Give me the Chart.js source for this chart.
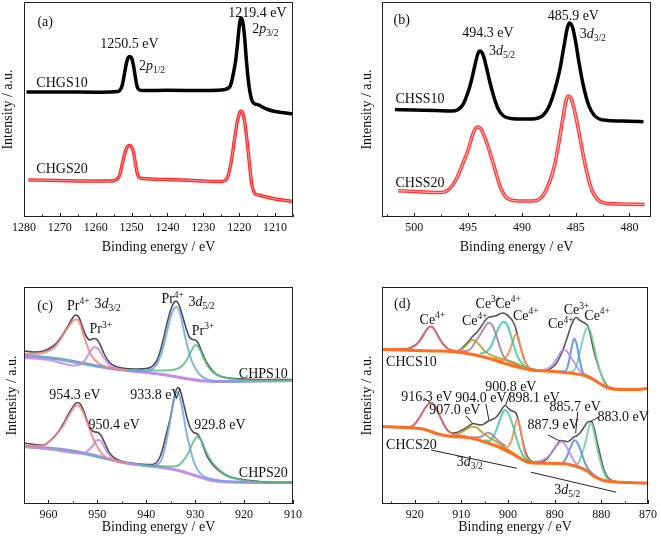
<!DOCTYPE html>
<html><head><meta charset="utf-8">
<script src="https://cdn.jsdelivr.net/npm/chart.js@4.4.1/dist/chart.umd.min.js"></script>
<style>
html,body{margin:0;padding:0;background:#fff;}
body{width:661px;height:543px;position:relative;overflow:hidden;}
.p{position:absolute;}
</style></head><body>
<div class="p" style="left:0;top:0;width:330px;height:270px"><canvas id="ca"></canvas></div>
<div class="p" style="left:330px;top:0;width:331px;height:270px"><canvas id="cb"></canvas></div>
<div class="p" style="left:0;top:270px;width:330px;height:273px"><canvas id="cc"></canvas></div>
<div class="p" style="left:330px;top:270px;width:331px;height:273px"><canvas id="cd"></canvas></div>
<script>
// ---------------- DATA (binding energy eV, intensity a.u.) ----------------
// tick labels
const ticksA = [1280,1270,1260,1250,1240,1230,1220,1210];
const ticksB = [500,495,490,485,480];
const ticksC = [960,950,940,930,920,910];
const ticksD = [920,910,900,890,880,870];

// (a) Ga 2p
const CHGS10 = [[1279.3,125],[1270,125],[1260,124.8],[1256,125],[1254,125.5],[1253.2,127],[1252.6,132],[1252,143],[1251.5,153],[1251,159],[1250.5,160.5],[1250,159],[1249.5,152],[1249,141],[1248.5,131],[1248,127.5],[1247,126.5],[1240,126.7],[1230,126.5],[1225,127],[1224,127.5],[1223,129],[1222.5,131],[1222,137],[1221.5,146],[1221,156],[1220.5,172],[1220,190],[1219.5,199],[1219,195],[1218.5,180],[1218,157],[1217.5,138],[1217,125],[1216.5,117],[1216,114],[1215,112.5],[1214,111],[1213,109],[1212,107.5],[1210,105.5],[1208,104.5],[1205,103]];
const CHGS20 = [[1278.8,37],[1270,36.5],[1260,36],[1256,36],[1255,36.5],[1254,38],[1253.3,42],[1252.6,53],[1252,62],[1251.5,68],[1251,71],[1250.5,71.5],[1250,70],[1249.5,65],[1249,55],[1248.5,45],[1248,40],[1247,38.5],[1240,37.5],[1230,36],[1225,35.5],[1224,36.5],[1223.2,40],[1222.5,50],[1222,60],[1221.5,73],[1221,85],[1220.5,96],[1220,103],[1219.5,106],[1219,104],[1218.5,96],[1218,82],[1217.5,66],[1217,48],[1216.5,33],[1216,26],[1215.5,23],[1214.5,22],[1213,20.5],[1210,18],[1207,16.5],[1205,15.5]];

// (b) Sn 3d
const CHSS10 = [[501.8,107.5],[500,107],[498,106.5],[496.5,106],[496,107],[495.5,112],[495,125],[494.7,136],[494.4,150],[494.1,163],[493.9,166],[493.6,162],[493.3,150],[493,136],[492.6,120],[492.2,108],[491.7,101],[491,98.5],[490,98],[489,98],[488.5,99],[488,102],[487.5,110],[487,125],[486.5,146],[486.1,170],[485.8,188],[485.6,194],[485.3,190],[485,175],[484.7,155],[484.3,132],[483.8,112],[483.3,102],[482.8,98],[482,96.5],[480,95.8],[478.7,95.3]];
const CHSS20 = [[501.5,26.3],[500,25.5],[498,24.5],[497.5,24.5],[497,26],[496.5,31],[496,40],[495.5,53],[495,67],[494.7,78],[494.4,87],[494.1,90],[493.8,88],[493.5,81],[493.1,69],[492.7,55],[492.3,40],[492,30],[491.5,20],[491,17],[490,16],[489,16],[488.5,17],[488,22],[487.5,33],[487,50],[486.6,72],[486.2,98],[485.9,116],[485.7,121],[485.4,118],[485.1,106],[484.7,85],[484.3,62],[483.9,42],[483.5,27],[483,18],[482.5,14.5],[481,13],[478.6,12.5]];

// (c) Pr 3d  -- CHPS10
const CHPS10_env = [[965,153],[963,152],[961,153],[959,158],[958,163],[957,170],[956,178],[955.2,185],[954.5,189],[953.8,187],[953.1,178],[952.3,168],[951.5,164],[950.8,165.5],[950.2,165],[949.5,160],[948.6,150],[947.6,142],[946.5,138],[945,136],[942,135],[940,135.5],[939,137],[938,142],[937.2,152],[936.5,165],[935.8,180],[935,194],[934.4,201],[933.9,203],[933.3,199],[932.7,190],[932,178],[931.2,167],[930.5,164.5],[930,164],[929.4,161],[928.7,153],[928,145],[927.2,138],[926.2,132],[925,128],[923,126],[920,125],[915,124.5],[910,124.5]];
const CHPS10_Pr4a = [[965,150],[962,150.5],[960,153],[958.5,158],[957.5,165],[956.5,173],[955.5,180],[954.8,184],[954.2,184.5],[953.6,181],[952.9,170],[952.2,160],[951.5,151],[950.5,144],[949.5,140],[948,137],[946,135],[944,133.5]];
const CHPS10_Pr3a = [[965,146],[960,144],[957,140.5],[955,138.5],[953.5,139.5],[952.5,144],[951.5,152],[950.6,157],[949.8,155],[948.8,147],[947.8,140.5],[946.5,136],[944,133.5]];
const CHPS10_Pr4b = [[965,149],[958,144.5],[952,139],[948,136],[944,133.5],[940,133],[938.5,136],[937.5,143],[936.5,157],[935.5,178],[934.6,193],[933.8,197],[933,189],[932.3,173],[931.5,156],[930.7,143],[930,136],[929,129],[927.5,124.5],[925,122.5],[920,122.5]];
const CHPS10_Pr3b = [[965,150],[958,145.5],[952,140],[948,136.5],[944,134],[938,133.5],[935,134],[933.5,135.5],[932.5,139],[931.5,146],[930.7,154],[929.9,159],[929,154],[928.2,145],[927.3,137],[926.3,131.5],[925,128],[922.5,125],[918,123.5],[912,123.5],[910,123.5]];
const CHPS10_bg = [[965,148],[958,145],[952,140],[948,136],[944,133.5],[940,131.5],[936,129],[932,125.5],[928,123],[924,122.5],[915,123],[910,123.5]];
// CHPS20
const CHPS20_env = [[965,61],[963,59.5],[961,59],[959.5,64],[958,72],[957,80],[956,89],[955,97],[954.2,101.5],[953.5,100],[952.7,92],[952,82],[951.2,74],[950.5,72],[949.8,71.5],[949.2,68],[948.3,59],[947.5,51],[946.5,46],[945,42.5],[942,40],[939,39.5],[938,41],[937.2,47],[936.5,58],[935.8,72],[935,88],[934.4,104],[933.8,115],[933.4,116.5],[932.9,111],[932.3,99],[931.6,85],[931,76],[930.3,71.5],[929.7,70.5],[929,66],[928.3,57],[927.6,48],[926.5,40],[925.3,34],[923.5,28],[921,25],[917,22.5],[914,21.5],[910,21.5]];
const CHPS20_Pr4a = [[965,58],[961,59],[959.5,64],[958,72],[957,78],[956,87],[955,95],[954.2,99],[953.4,96],[952.5,87],[951.8,78],[950.9,66],[950,57],[949,50],[948,46],[946.5,43],[944,40.5]];
const CHPS20_Pr3a = [[965,57],[960,55],[955,51],[953,50.5],[952,53],[951,58],[950.2,63.5],[949.6,64],[948.9,60],[948,52],[947,46],[946,43],[944,40.5],[942,39]];
const CHPS20_Pr4b = [[965,57],[955,52],[948,45],[942,39.5],[939,38],[937.5,40],[936.8,45],[936,60],[935.3,78],[934.6,98],[934,110],[933.6,112],[933.1,106],[932.5,92],[931.8,72],[931,55],[930.4,44],[929.5,34],[928.5,28.5],[927,25.5],[924,23],[920,22]];
const CHPS20_Pr3b = [[965,58],[955,53],[945,41.5],[940,38.5],[935,37.5],[933.5,38.5],[932.5,43],[931.5,50],[930.5,61],[929.6,67],[928.8,64],[928,55],[927.2,47],[926.3,40.5],[925,34],[923.5,28.5],[921,24.5],[918,22.5],[914,21.5],[910,21.5]];
const CHPS20_bg = [[965,58],[960,56],[955,53],[950,48],[945,42],[940,38.5],[936,36],[933,33],[930,28.5],[927,24],[923,22],[915,21.5],[910,21.5]];

// (d) Ce 3d -- CHCS10
const CHCS10_env = [[927,155],[922,155],[921,156],[920,158.5],[919,163],[918.3,168],[917.5,174],[916.8,177.5],[916.3,177.5],[915.7,174],[915,168],[914.2,162],[913.3,157],[912.3,154],[911.3,152.5],[910.3,154],[909.3,158.5],[908.4,163],[907.5,168],[906.5,172.5],[905.6,178.5],[904.7,184.5],[904,187],[903.2,187.5],[902.4,188.5],[901.6,190.5],[900.9,191],[900.2,189],[899.5,186],[898.9,182],[898.3,175],[897.7,163],[897,152],[896.3,142],[895.6,136.5],[894.5,133.5],[893,133],[891.5,134],[890.5,136.5],[889.6,141],[888.8,148],[888,157],[887.2,168],[886.5,178],[885.8,185],[885.3,186.5],[884.7,184],[884,182],[883.4,180.5],[882.9,178],[882.3,168],[881.7,155],[881,143],[880.3,133],[879.5,124],[878.7,118],[877.8,115.5],[876,114.5],[873,114.8],[870,115.5]];
const CHCS10_916 = [[927,155],[922,155],[921,155.7],[920,158],[919,162.5],[918.3,167],[917.5,173.5],[916.8,177],[916.4,177.3],[915.8,174.5],[915,168],[914.2,161.5],[913.3,156.5],[912.2,154],[911,153],[909,152]];
const CHCS10_907 = [[913,153],[911,153],[910,154.5],[909.2,157.5],[908.4,161.5],[907.7,164],[907,163],[906.2,159.5],[905.4,155],[904.6,151.5],[903.5,148.5],[902,146],[900,143.5],[898.5,141],[897,138],[895.6,135.5],[894,134]];
const CHCS10_904 = [[910,152.5],[908.5,153.5],[907.7,157],[906.9,163],[906,169],[905.1,176],[904.2,181.3],[903.4,179],[902.6,170],[901.8,158],[901,148],[900,143],[898.5,140],[897,137.5]];
const CHCS10_901 = [[906,150.5],[905,151.5],[904.3,153.5],[903.5,159],[902.7,168.5],[901.8,178],[901,182.3],[900.2,179.5],[899.4,169],[898.6,156],[897.8,146],[897,140.5],[896,136.5],[894,134]];
const CHCS10_898 = [[903,146.5],[902,143.5],[901.2,143.5],[900.4,147],[899.6,154],[899,162],[898.4,169.5],[897.9,168],[897.3,157],[896.6,145],[895.8,138],[895,135],[894,134]];
const CHCS10_888 = [[895,134],[893,133.5],[892,134.5],[891,137],[890,142],[889.2,148],[888.3,153.5],[887.6,153.5],[886.8,148.5],[886,143],[885.2,137],[884.3,131.5],[883.3,129],[882,126]];
const CHCS10_886 = [[889,133],[888,132.5],[887.3,136],[886.8,146],[886.3,158],[885.8,165.5],[885.3,160],[884.8,148],[884.2,135],[883.6,129],[882.8,127],[881.5,124]];
const CHCS10_883 = [[887,132],[886,133],[885.3,139],[884.6,152],[884,164],[883.4,173.5],[882.9,177.3],[882.3,172],[881.6,159],[880.8,142],[880,129],[879.2,119.5],[878.4,115.5],[877,114.5],[875,114.5]];
const CHCS10_bg = [[927,154.5],[920,153.5],[915,153],[911,152],[907,149],[904,145.5],[901,141],[898,137],[895,134],[890,132.5],[886,130.5],[883,127.5],[881,122.5],[879,117],[876,114.5],[873,114.5],[870,115.5]];
// CHCS20
const CHCS20_env = [[927,77.5],[922,76.5],[921,77],[920.2,79],[919.3,84],[918.4,91],[917.6,97],[916.9,100.5],[916.4,101.3],[915.8,99],[915.2,94],[914.5,87],[913.7,79],[912.9,73.5],[912,71],[911,71.5],[910,73.5],[909,76],[908.1,79],[907.4,80.5],[906.6,79.5],[905.8,79],[905,80.5],[904.2,83],[903.4,84.5],[902.6,86.5],[901.8,91],[901.1,96.5],[900.6,98.5],[900,96],[899.4,93.5],[898.8,92.5],[898.3,91],[897.8,84],[897.3,73],[896.7,60],[896.1,50],[895.3,44],[894,42],[892.5,42.5],[891.3,47],[890.3,54],[889.4,60],[888.7,63.5],[888,63],[887.3,62.3],[886.6,64],[885.9,67],[885.3,68],[884.7,70.5],[884.1,74],[883.4,79],[882.7,82.5],[882.1,82.5],[881.5,75],[880.9,62],[880.2,48],[879.5,35],[878.7,27],[877.8,23.5],[876,22],[873,21.3],[870,21]];
const CHCS20_916 = [[927,77.5],[922,76.5],[921,77],[920.2,79],[919.3,84],[918.4,91],[917.6,97],[916.9,100.5],[916.4,101.3],[915.8,99],[915.2,94],[914.5,87],[913.7,79],[912.9,73.5],[912,70.5],[911,69],[909,68]];
const CHCS20_907 = [[912,69],[910.5,70.5],[909.5,73],[908.6,75.5],[907.7,77.3],[907,77],[906.2,74.5],[905.4,71],[904.6,68.5],[903.5,65],[902,60.5],[900,54.5],[898,48.5],[896.5,44],[895,42]];
const CHCS20_904 = [[908,67],[907,66.5],[906.2,66.8],[905.5,68],[904.9,70],[904.3,71.3],[903.7,70.3],[903,67.5],[902.3,64],[901.5,61],[900.5,58]];
const CHCS20_901 = [[905,64],[904,63],[903.2,67],[902.5,74],[901.9,82],[901.3,89.5],[900.7,94],[900.1,92],[899.5,86],[898.9,77.5],[898.2,66],[897.5,56],[896.8,48.5],[896,44.5],[895,42]];
const CHCS20_898 = [[901.5,58],[900.5,56],[899.8,58.5],[899.2,64],[898.7,74],[898.3,82],[898,84.7],[897.7,82.5],[897.3,74],[896.8,60],[896.3,50],[895.7,44.5],[895,42]];
const CHCS20_888 = [[895,42],[893.5,42.5],[892.5,44],[891.5,47],[890.8,50.5],[890.1,55],[889.4,59.5],[888.7,62.3],[888,61],[887.3,56],[886.6,49.5],[885.9,43.5],[885.1,38.5],[884,35.5],[883,33]];
const CHCS20_886 = [[890,40.5],[889,40],[888.3,41],[887.6,45.5],[887,52],[886.4,59],[885.8,63.8],[885.3,62.5],[884.7,57],[884.1,49],[883.5,41],[882.8,35],[881.8,30],[880.5,26]];
const CHCS20_883 = [[887,39.5],[886,38.5],[885.2,39.5],[884.6,44],[884,52],[883.4,62],[882.9,72],[882.4,80.5],[882,79.5],[881.5,70],[880.9,56],[880.2,42],[879.5,32],[878.7,25],[877.5,22.3],[875,21.8]];
const CHCS20_bg = [[927,77.5],[922,76.5],[918,74.7],[915,70],[912,67.5],[910,67],[907.5,65.5],[905,62],[902,57],[899,50],[897,44.5],[895.5,41.5],[893,40.8],[890,40.5],[887,39.5],[885,37],[883,33],[881.5,27.5],[879.5,23.5],[877,22],[873,21.3],[870,21]];

// annotations: [eV, intensity, text]   (*italic*, ^{sup}, _{sub})
const labelsA = [[1274.1,196,'(a)'],[1250.6,174,'1250.5 eV'],[1244.3,152,'2*p*_{1/2}'],[1269.4,135,'CHGS10'],[1214.9,205,'1219.4 eV'],[1212.7,189,'2*p*_{3/2}'],[1269.4,49,'CHGS20']];
const labelsB = [[501.17,198,'(b)'],[493.15,185,'494.3 eV'],[491.85,167,'3*d*_{5/2}'],[485.22,202,'485.9 eV'],[483.41,184,'3*d*_{3/2}'],[499.47,119,'CHSS10'],[499.47,35,'CHSS20']];
const labelsC = [[960.7,199,'(c)'],[953.9,199,'Pr^{4+}'],[947.9,200.7,'3*d*_{3/2}'],[949.3,175.7,'Pr^{3+}'],[934.6,205.7,'Pr^{4+}'],[928.7,202.3,'3*d*_{5/2}'],[928.4,174,'Pr^{3+}'],[916.06,130.7,'CHPS10'],[954.57,110,'954.3 eV'],[938.05,110,'933.8 eV'],[946.55,80,'950.4 eV'],[924.92,80,'929.8 eV'],[916.06,31.3,'CHPS20']];
const labelsD = [[922.66,200.7,'(d)'],[916.2,185,'Ce^{4+}'],[907.1,184,'Ce^{4+}'],[904.2,201,'Ce^{3+}'],[900.0,201,'Ce^{4+}'],[896.2,189,'Ce^{4+}'],[888.7,180.7,'Ce^{4+}'],[885.3,194.7,'Ce^{3+}'],[880.9,189,'Ce^{4+}'],[920.7,142.3,'CHCS10'],[899.4,117.3,'900.8 eV'],[917.4,108,'916.3 eV'],[905.8,106.7,'904.0 eV'],[894.4,106.7,'898.1 eV'],[911.4,94.7,'907.0 eV'],[885.6,97.3,'885.7 eV'],[875.3,87.3,'883.0 eV'],[890.3,80,'887.9 eV'],[920.7,60,'CHCS20'],[908.2,42.3,'3*d*_{3/2}'],[887.3,14.7,'3*d*_{5/2}']];
// leader / bracket lines: [eV1, int1, eV2, int2]
const linesD = [[916.47,54,898.12,35.7],[895.11,31.8,876.8,11.8],[918.1,106,916.6,101.3],[909,88,907.5,80],[904.75,100,904.1,84],[899.5,112,900.5,99],[891.4,69,888.9,63],[885.05,92,885.5,71],[880.6,87,882.5,82]];

// ---------------- RENDERING ----------------
const FONT = "'Liberation Serif','Times New Roman',serif";
Chart.defaults.font.family = FONT;

function parseRich(s){
  const segs=[]; let it=false, i=0, buf='';
  const push=()=>{ if(buf){ segs.push({t:buf,it:it,mode:'n'}); buf=''; } };
  while(i<s.length){
    const c=s[i];
    if(c==='*'){ push(); it=!it; i++; continue; }
    if((c==='^'||c==='_') && s[i+1]==='{'){
      push(); const j=s.indexOf('}',i);
      segs.push({t:s.slice(i+2,j),it:false,mode:c==='^'?'sup':'sub'});
      i=j+1; continue;
    }
    buf+=c; i++;
  }
  push(); return segs;
}
function drawRich(ctx,s,cx,cy,size){
  const segs=parseRich(s); let w=0;
  segs.forEach(g=>{ const fs=g.mode==='n'?size:size*0.68; g.font=(g.it?'italic ':'')+fs+'px '+FONT; ctx.font=g.font; g.w=ctx.measureText(g.t).width; w+=g.w; });
  let x=cx-w/2; const base=cy+size*0.34;
  ctx.fillStyle='#111'; ctx.textAlign='left'; ctx.textBaseline='alphabetic';
  segs.forEach(g=>{ ctx.font=g.font; let dy=0; if(g.mode==='sup') dy=-size*0.38; if(g.mode==='sub') dy=size*0.2; ctx.fillText(g.t,x,base+dy); x+=g.w; });
}

const decor = {
  id:'decor',
  afterDatasetsDraw(chart,args,o){
    const {ctx,chartArea:ca,scales:{x,y}}=chart;
    ctx.save();
    ctx.strokeStyle='#222'; ctx.lineWidth=1;
    ctx.strokeRect(Math.round(ca.left)+0.5,Math.round(ca.top)+0.5,Math.round(ca.right-ca.left)-1,Math.round(ca.bottom-ca.top)-1);
    const lo=Math.min(x.min,x.max), hi=Math.max(x.min,x.max);
    for(let v=Math.ceil(lo/o.minor-1e-9)*o.minor; v<=hi+1e-9; v+=o.minor){
      const px=Math.round(x.getPixelForValue(v))+0.5;
      const r=v/o.major, isMaj=Math.abs(r-Math.round(r))<1e-6;
      ctx.beginPath(); ctx.moveTo(px,ca.bottom); ctx.lineTo(px,ca.bottom-(isMaj?4:2.5)); ctx.stroke();
    }
    ctx.strokeStyle='#222'; ctx.lineWidth=1;
    (o.lines||[]).forEach(l=>{ ctx.beginPath(); ctx.moveTo(x.getPixelForValue(l[0]),y.getPixelForValue(l[1])); ctx.lineTo(x.getPixelForValue(l[2]),y.getPixelForValue(l[3])); ctx.stroke(); });
    (o.labels||[]).forEach(t=>drawRich(ctx,t[2],x.getPixelForValue(t[0]),y.getPixelForValue(t[1]),14));
    ctx.restore();
  }
};

const xy = a => a.map(p=>({x:p[0],y:p[1]}));
function ds(arr,color,width,order){ return {data:xy(arr),borderColor:color,borderWidth:width,showLine:true,pointRadius:0,fill:false,order:order}; }

function makeChart(id,c){
  return new Chart(document.getElementById(id),{
    type:'scatter',
    data:{datasets:c.datasets},
    options:{
      responsive:true, maintainAspectRatio:false, animation:false, events:[],
      layout:{padding:c.padding},
      elements:{point:{radius:0},line:{cubicInterpolationMode:'monotone'}},
      plugins:{legend:{display:false},tooltip:{enabled:false},decor:{minor:c.minor,major:c.major,labels:c.labels,lines:c.lines}},
      scales:{
        x:{type:'linear',reverse:true,min:c.xmin,max:c.xmax,
          grid:{display:false,drawTicks:false},border:{display:false},
          afterBuildTicks:s=>{ s.ticks=c.ticks.map(v=>({value:v})); },
          ticks:{padding:4,color:'#111',font:{size:12,family:FONT},maxRotation:0,autoSkip:false,callback:v=>String(v)},
          title:{display:true,text:'Binding energy / eV',color:'#111',font:{size:14,family:FONT},padding:{top:0,bottom:c.xTitlePad}},
          afterFit:s=>{ s.height=c.xh; }},
        y:{type:'linear',min:0,max:c.ymax,grid:{display:false,drawTicks:false},border:{display:false},ticks:{display:false},
          title:{display:true,text:'Intensity / a.u.',color:'#111',font:{size:14,family:FONT},padding:{top:c.yTitlePad,bottom:0}},
          afterFit:s=>{ s.width=c.yw; }}
      }
    },
    plugins:[decor]
  });
}

// (a)
makeChart('ca',{xmin:1205,xmax:1280,ymax:215,ticks:ticksA,minor:5,major:10,
  padding:{left:0,top:2,right:37,bottom:0},yw:24,xh:53,xTitlePad:14.6,yTitlePad:0,labels:labelsA,
  datasets:[ds(CHGS10,'#000',3.5,1),ds(CHGS20,'rgba(255,190,190,0.7)',1,2),ds(CHGS20,'#ff2a2a',3.4,3)]});
// (b)
makeChart('cb',{xmin:478,xmax:503,ymax:215,ticks:ticksB,minor:2.5,major:5,
  padding:{left:29,top:2,right:10,bottom:0},yw:23,xh:53,xTitlePad:14.6,yTitlePad:0,labels:labelsB,
  datasets:[ds(CHSS10,'#000',3.5,1),ds(CHSS20,'rgba(255,190,190,0.85)',1.2,2),ds(CHSS20,'#ff3535',3.6,3)]});
// (c)
const cRed='rgba(245,130,130,0.85)', cPur='rgba(200,140,235,0.9)', cBlu='rgba(110,165,235,0.85)', cGrn='rgba(90,190,130,0.85)', cBg='rgba(185,130,235,0.9)', cEnv='#4d4d4d';
makeChart('cc',{xmin:910,xmax:965,ymax:217,ticks:ticksC,minor:5,major:10,
  padding:{left:0,top:17,right:37,bottom:0},yw:24,xh:39,xTitlePad:7.3,yTitlePad:3.6,labels:labelsC,
  datasets:[
    ds(CHPS10_bg,cBg,3,9),ds(CHPS10_env,cEnv,1.6,8),ds(CHPS10_Pr4a,cRed,2,5),ds(CHPS10_Pr3a,cPur,2,5),ds(CHPS10_Pr4b,cBlu,2,5),ds(CHPS10_Pr3b,cGrn,2,5),
    ds(CHPS20_bg,cBg,3,9),ds(CHPS20_env,cEnv,1.6,8),ds(CHPS20_Pr4a,cRed,2,5),ds(CHPS20_Pr3a,cPur,2,5),ds(CHPS20_Pr4b,cBlu,2,5),ds(CHPS20_Pr3b,cGrn,2,5)
  ]});
// (d)
const dRed='rgba(245,110,110,0.85)', dOli='rgba(170,160,40,0.85)', dMau='rgba(165,120,165,0.85)', dTea='rgba(60,200,160,0.85)', dSal='rgba(255,140,80,0.9)', dPur='rgba(180,140,230,0.85)', dBlu='rgba(80,140,230,0.85)', dGrn='rgba(120,210,160,0.9)', dBg='rgb(255,110,30)', dEnv='#555';
makeChart('cd',{xmin:870,xmax:927,ymax:217,ticks:ticksD,minor:5,major:10,
  padding:{left:29,top:17,right:10,bottom:0},yw:23,xh:39,xTitlePad:7.3,yTitlePad:0,labels:labelsD,lines:linesD,
  datasets:[
    ds(CHCS10_env,dEnv,1.6,8),ds(CHCS10_916,dRed,2,5),ds(CHCS10_907,dOli,2,5),ds(CHCS10_904,dMau,2,5),ds(CHCS10_901,dTea,2,5),ds(CHCS10_898,dSal,2,5),ds(CHCS10_888,dPur,2,5),ds(CHCS10_886,dBlu,2,5),ds(CHCS10_883,dGrn,2,5),ds(CHCS10_bg,dBg,3,1),
    ds(CHCS20_env,dEnv,1.6,8),ds(CHCS20_916,dRed,2,5),ds(CHCS20_907,dOli,2,5),ds(CHCS20_904,dMau,2,5),ds(CHCS20_901,dTea,2,5),ds(CHCS20_898,dSal,2,5),ds(CHCS20_888,dPur,2,5),ds(CHCS20_886,dBlu,2,5),ds(CHCS20_883,dGrn,2,5),ds(CHCS20_bg,dBg,3,1)
  ]});
</script>
</body></html>
